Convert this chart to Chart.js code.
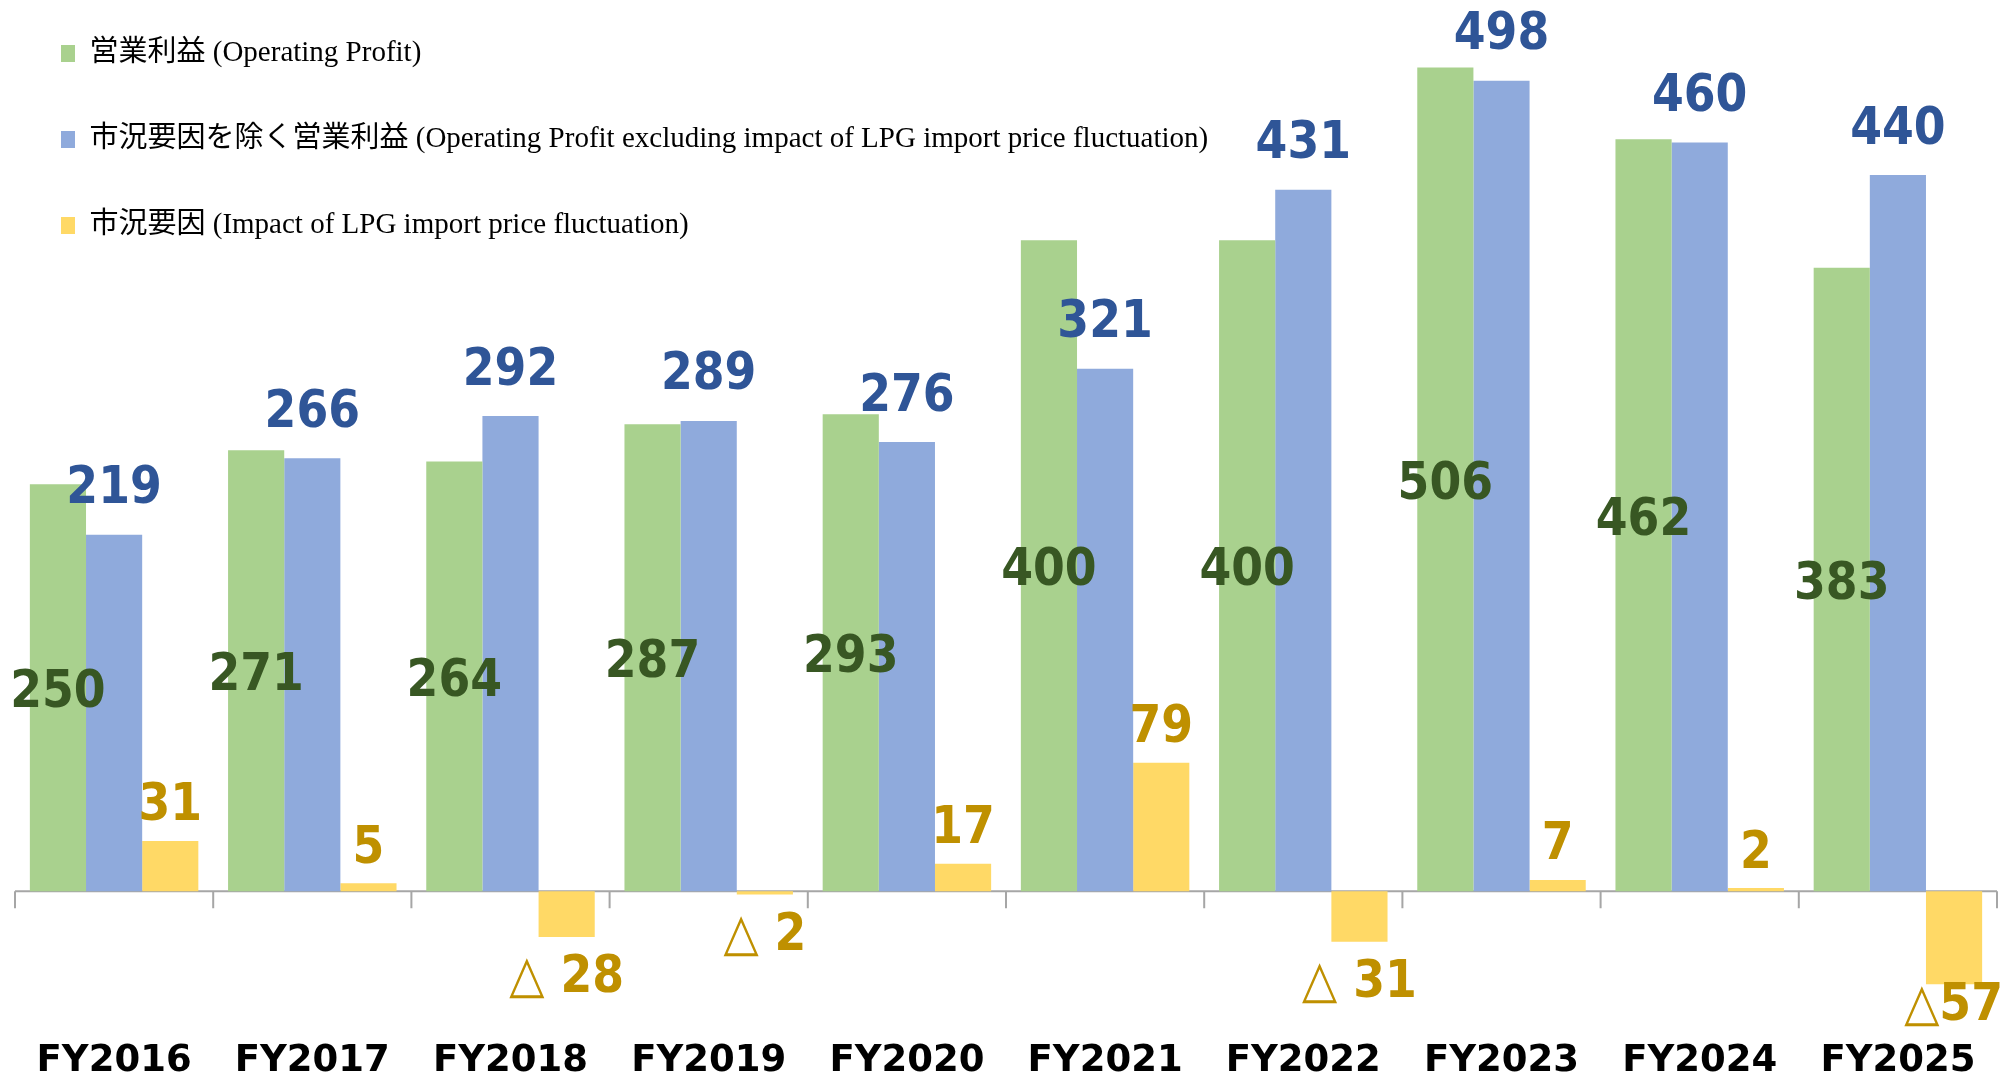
<!DOCTYPE html>
<html><head><meta charset="utf-8">
<script src="https://cdn.jsdelivr.net/npm/chart.js@4/dist/chart.umd.min.js"></script>
<style>html,body{margin:0;padding:0;background:#fff;}#wrap{width:2003px;height:1075px;position:relative;}</style>
</head><body><div id="wrap"><canvas id="c"></canvas></div>
<script>
const categories = ["FY2016","FY2017","FY2018","FY2019","FY2020","FY2021","FY2022","FY2023","FY2024","FY2025"];
const operatingProfit = [250,271,264,287,293,400,400,506,462,383];
const profitExclImpact = [219,266,292,289,276,321,431,498,460,440];
const priceImpact = [31,5,-28,-2,17,79,-31,7,2,-57];
const priceImpactLabels = ["31","5","△ 28","△ 2","17","79","△ 31","7","2","△57"];
const seriesNames = [
  "営業利益 (Operating Profit)",
  "市況要因を除く営業利益 (Operating Profit excluding impact of LPG import price fluctuation)",
  "市況要因 (Impact of LPG import price fluctuation)"
];

const barColors = ["#A9D18E", "#8FAADC", "#FFD966"];
const labelColors = ["#385723", "#2F5597", "#BF9000"];

const LABEL_FONT = "bold 52px 'DejaVu Sans'";
const TRI_FONT = "52px 'DejaVu Sans'";
const XSCALE = 0.88;

function drawScaledText(ctx, text, x, y, font) {
  ctx.save();
  ctx.font = font;
  ctx.translate(x, y);
  ctx.scale(XSCALE, 1);
  ctx.textAlign = "center";
  ctx.textBaseline = "middle";
  ctx.fillText(text, 0, 0);
  ctx.restore();
}

function drawImpactLabel(ctx, text, x, y, maxRight) {
  ctx.save();
  ctx.textBaseline = "middle";
  let tri = "", rest = text;
  if (text.startsWith("△")) { tri = "△"; rest = text.slice(1); }
  ctx.font = TRI_FONT;
  const wTri = tri ? ctx.measureText(tri).width * XSCALE : 0;
  ctx.font = LABEL_FONT;
  const wRest = ctx.measureText(rest).width * XSCALE;
  const total = wTri + wRest;
  let left = x - total / 2;
  if (left + total > maxRight) left = maxRight - total;
  if (tri) {
    ctx.save(); ctx.font = TRI_FONT; ctx.translate(left, y); ctx.scale(XSCALE, 1);
    ctx.textAlign = "left"; ctx.fillText(tri, 0, 0); ctx.restore();
  }
  ctx.save(); ctx.font = LABEL_FONT; ctx.translate(left + wTri, y); ctx.scale(XSCALE, 1);
  ctx.textAlign = "left"; ctx.fillText(rest, 0, 0); ctx.restore();
  ctx.restore();
}

const axisPlugin = {
  id: "zeroAxis",
  beforeDatasetsDraw(chart) {
    const ctx = chart.ctx, x = chart.scales.x, y = chart.scales.y;
    const y0 = y.getPixelForValue(0);
    ctx.save();
    ctx.strokeStyle = "#A6A6A6";
    ctx.lineWidth = 2;
    ctx.beginPath();
    ctx.moveTo(x.left, y0); ctx.lineTo(x.right, y0);
    const n = categories.length;
    for (let i = 0; i <= n; i++) {
      const px = i === 0 ? x.left : (i === n ? x.right : (x.getPixelForValue(i - 1) + x.getPixelForValue(i)) / 2);
      ctx.moveTo(px, y0); ctx.lineTo(px, y0 + 17);
    }
    ctx.stroke();
    ctx.restore();
  }
};

const labelPlugin = {
  id: "valueLabels",
  afterDatasetsDraw(chart) {
    const ctx = chart.ctx;
    const y0 = chart.scales.y.getPixelForValue(0);
    chart.data.datasets.forEach((ds, di) => {
      const meta = chart.getDatasetMeta(di);
      meta.data.forEach((bar, i) => {
        ctx.fillStyle = labelColors[di];
        const v = ds.data[i];
        if (di === 0) {
          drawScaledText(ctx, String(v), bar.x, (bar.y + bar.base) / 2 + 6, LABEL_FONT);
        } else if (di === 1) {
          drawScaledText(ctx, String(v), bar.x, bar.y - 45, LABEL_FONT);
        } else {
          let ly = v >= 0 ? bar.y - 34 : Math.min(bar.y + 42, y0 + 115);
          drawImpactLabel(ctx, priceImpactLabels[i], bar.x, ly, chart.width);
        }
      });
    });
  }
};

const legendShift = {
  id: "legendShift",
  afterLayout(chart) {
    const l = chart.legend;
    if (l) { l.top -= 18; l.bottom -= 18; l.left -= 11; l.right -= 11; }
  }
};

new Chart(document.getElementById("c"), {
  type: "bar",
  data: {
    labels: categories,
    datasets: [
      { label: seriesNames[0], data: operatingProfit, backgroundColor: barColors[0] },
      { label: seriesNames[1], data: profitExclImpact, backgroundColor: barColors[1] },
      { label: seriesNames[2], data: priceImpact, backgroundColor: barColors[2] }
    ]
  },
  options: {
    responsive: true,
    maintainAspectRatio: false,
    animation: false,
    datasets: { bar: { categoryPercentage: 0.85, barPercentage: 1.0, borderWidth: 0 } },
    layout: { padding: { left: 15, right: 6, top: 9, bottom: -15 } },
    scales: {
      x: {
        grid: { display: false, drawTicks: false },
        border: { display: false },
        ticks: { color: "#000", padding: 10, font: { family: "'DejaVu Sans'", weight: "bold", size: 37, lineHeight: 1 } }
      },
      y: { display: false, min: -87, max: 542 }
    },
    plugins: {
      legend: {
        position: "chartArea",
        align: "start",
        labels: {
          boxWidth: 14, boxHeight: 17, padding: 57, color: "#000",
          font: { family: "'Liberation Serif', 'Noto Sans CJK JP', serif", size: 29 }
        }
      },
      tooltip: { enabled: false }
    }
  },
  plugins: [axisPlugin, labelPlugin, legendShift]
});
</script>
</body></html>
